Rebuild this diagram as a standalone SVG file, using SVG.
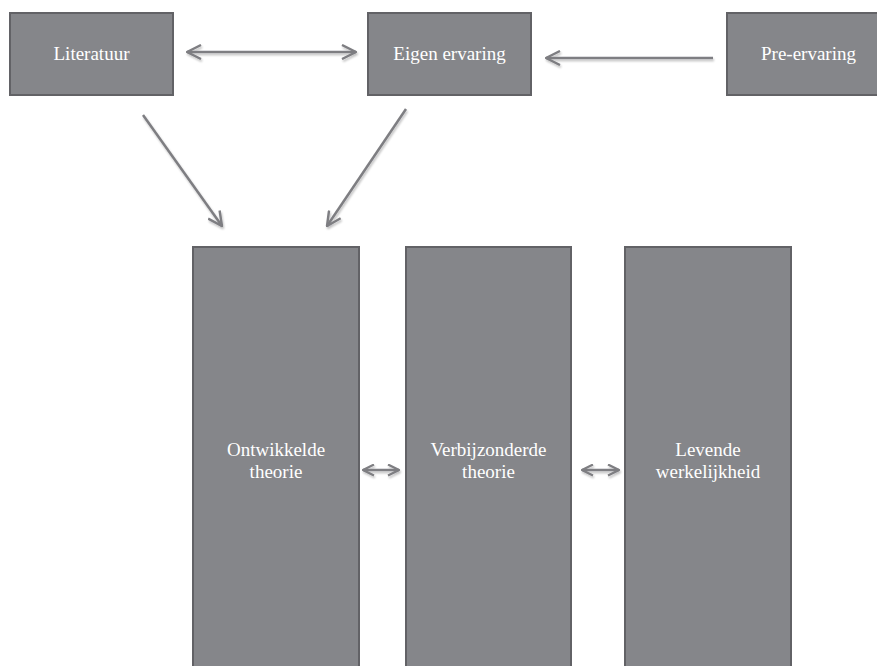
<svg xmlns="http://www.w3.org/2000/svg" width="877" height="666" viewBox="0 0 877 666">
<style>
.box{fill:#85868a;stroke:#626266;stroke-width:2}
.lbl{font-family:"Liberation Serif","Times New Roman","DejaVu Serif",serif;font-size:19px;fill:#ffffff;text-anchor:middle}
.con{stroke:#7e7e82;stroke-width:2.5;fill:none;filter:url(#sh)}
</style>
<defs>
<filter id="sh" filterUnits="userSpaceOnUse" x="0" y="0" width="877" height="666">
<feGaussianBlur in="SourceAlpha" stdDeviation="1.2"/>
<feOffset dx="1" dy="2" result="b"/>
<feComponentTransfer><feFuncA type="linear" slope="0.25"/></feComponentTransfer>
<feMerge><feMergeNode/><feMergeNode in="SourceGraphic"/></feMerge>
</filter>
<marker id="ah" viewBox="0 0 16 16" refX="15" refY="8" markerWidth="16" markerHeight="16" markerUnits="userSpaceOnUse" orient="auto-start-reverse">
<path d="M1,1 L15,8 L1,15" fill="none" stroke="#7e7e82" stroke-width="2.4"/>
</marker>
<marker id="ahs" viewBox="0 0 13 13" refX="12" refY="6.5" markerWidth="13" markerHeight="13" markerUnits="userSpaceOnUse" orient="auto-start-reverse">
<path d="M1,1 L12,6.5 L1,12" fill="none" stroke="#7e7e82" stroke-width="2.2"/>
</marker>
</defs>
<g id="connectors">
<line class="con" x1="187" y1="52" x2="356" y2="52" marker-start="url(#ah)" marker-end="url(#ah)"/>
<line class="con" x1="713" y1="58" x2="546" y2="58" marker-end="url(#ah)"/>
<line class="con" x1="143" y1="115" x2="222" y2="226" marker-end="url(#ah)"/>
<line class="con" x1="406" y1="109" x2="327" y2="226" marker-end="url(#ah)"/>
<line class="con" x1="363" y1="470" x2="399" y2="470" marker-start="url(#ahs)" marker-end="url(#ahs)"/>
<line class="con" x1="582" y1="470" x2="619" y2="470" marker-start="url(#ahs)" marker-end="url(#ahs)"/>
</g>
<g id="literatuur"><rect class="box" x="10" y="13" width="163" height="82"/><text class="lbl" x="91.5" y="60">Literatuur</text></g>
<g id="eigen-ervaring"><rect class="box" x="368" y="13" width="163" height="82"/><text class="lbl" x="449.5" y="60">Eigen ervaring</text></g>
<g id="pre-ervaring"><rect class="box" x="727" y="13" width="163" height="82"/><text class="lbl" x="808.5" y="60">Pre-ervaring</text></g>
<g id="ontwikkelde-theorie"><rect class="box" x="193" y="247" width="166" height="430"/><text class="lbl" x="276" y="456">Ontwikkelde</text><text class="lbl" x="276" y="478">theorie</text></g>
<g id="verbijzonderde-theorie"><rect class="box" x="406" y="247" width="165" height="430"/><text class="lbl" x="488.5" y="456">Verbijzonderde</text><text class="lbl" x="488.5" y="478">theorie</text></g>
<g id="levende-werkelijkheid"><rect class="box" x="625" y="247" width="166" height="430"/><text class="lbl" x="708" y="456">Levende</text><text class="lbl" x="708" y="478">werkelijkheid</text></g>
</svg>
